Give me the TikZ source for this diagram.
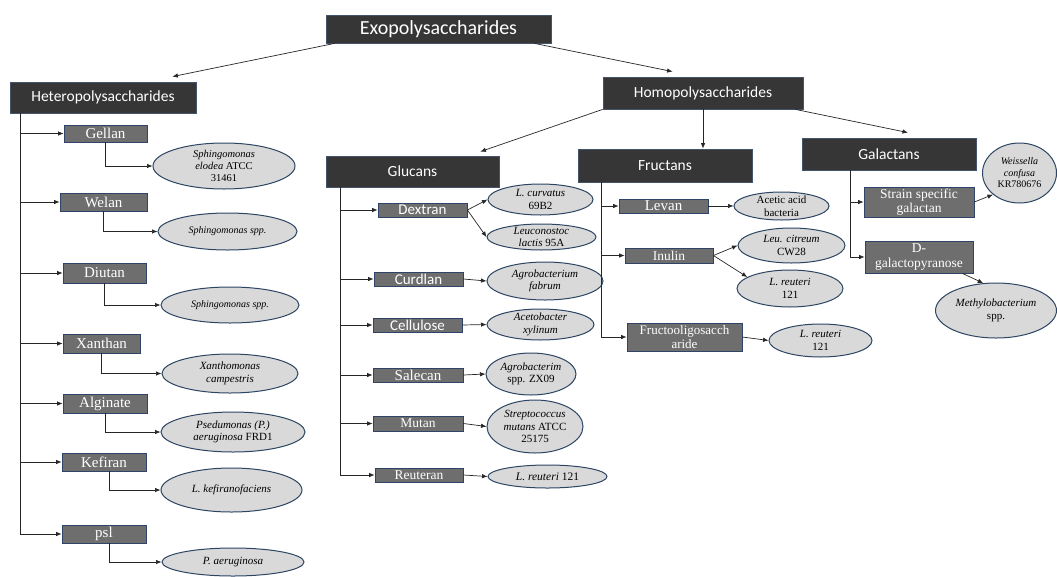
\documentclass[tikz,border=0pt]{standalone}
\usepackage{fontspec}
\setmainfont{Liberation Serif}
\newfontfamily\calibri{Carlito}
\usetikzlibrary{shapes.geometric,shadows,arrows.meta}
\definecolor{headfill}{HTML}{363636}
\definecolor{headline}{HTML}{44546A}
\definecolor{polyfill}{HTML}{6E6E6E}
\definecolor{polyline}{HTML}{2F4468}
\definecolor{srcfill}{HTML}{D9D9D9}
\definecolor{srcline}{HTML}{2C4563}
\tikzset{
  dims/.style 2 args = {minimum width=#1pt, minimum height=#2pt},
  headnode/.style = {shape=rectangle, draw=headline, fill=headfill,
                     line width=0.8pt, inner sep=0pt, text=white,
                     font=\calibri\fontsize{15.5}{17}\selectfont,
                     drop shadow={opacity=0.25, shadow xshift=1pt, shadow yshift=-1pt}},
  polynode/.style = {shape=rectangle, draw=polyline, fill=polyfill,
                     line width=0.8pt, inner sep=0pt, text=white, align=center,
                     font=\fontsize{15}{16}\selectfont,
                     drop shadow={opacity=0.25, shadow xshift=1pt, shadow yshift=-1pt}},
  sansnode/.style = {polynode, font=\calibri\fontsize{15}{16}\selectfont},
  smaller/.style  = {font=\fontsize{13.5}{14.5}\selectfont},
  source/.style   = {shape=ellipse, draw=srcline, fill=srcfill,
                     line width=1pt, inner xsep=0pt, inner ysep=-3pt, align=center,
                     font=\fontsize{11}{12.5}\selectfont},
  link/.style     = {draw=black!85, line width=0.7pt, -{Latex[length=5.5pt,width=4.5pt]}}
}
\begin{document}
\begin{tikzpicture}[x=1pt, y=-1pt]
  \useasboundingbox (0,0) rectangle (1057,576);

  \node [headnode, dims={225}{28}, font=\calibri\fontsize{20}{22}\selectfont] (exo) at (438.5,29) {Exopolysaccharides};
  \node [headnode, dims={186}{31}] (hetero) at (103,97.5) {Heteropolysaccharides};
  \node [headnode, dims={200}{32}] (homo) at (703,93) {Homopolysaccharides};
  \node [headnode, dims={173}{31}] (glucans) at (412.5,171.5) {Glucans};
  \node [headnode, dims={174}{33}] (fructans) at (665,165.5) {Fructans};
  \node [headnode, dims={174}{32}] (galactans) at (889,154) {Galactans};

  \draw [link] ([xshift=9pt]exo.south west) -- ([xshift=-24pt,yshift=5pt]hetero.north east);
  \draw [link] ([xshift=-17pt]exo.south east) -- ([xshift=70pt,yshift=5pt]homo.north west);
  \draw [link] (homo.south west) -- ([xshift=-19pt,yshift=4pt]glucans.north east);
  \draw [link] (homo.south) -- (homo.south |- fructans.north);
  \draw [link] ([xshift=-8pt]homo.south east) -- ([xshift=19pt,yshift=5pt]galactans.north);

  % heteropolysaccharides
  \node [polynode, dims={83}{17}] (gellan) at (105.5,133.5) {Gellan};
  \node [polynode, dims={87}{18}] (welan) at (103.5,202) {Welan};
  \node [polynode, dims={83}{20}] (diutan) at (104.5,273) {Diutan};
  \node [polynode, dims={77}{19}] (xanthan) at (101.5,343.5) {Xanthan};
  \node [polynode, dims={84}{19}] (alginate) at (105,403.5) {Alginate};
  \node [polynode, dims={84}{18}] (kefiran) at (104,462) {Kefiran};
  \node [polynode, dims={84}{18}] (psl) at (104,534) {psl};

  \node [source, dims={142}{46}, font=\fontsize{10.5}{12}\selectfont] (gellansrc) at (224,166) {\textit{Sphingomonas}\\\textit{elodea} ATCC\\31461};
  \node [source, dims={139}{37}, font=\fontsize{10}{12}\selectfont] (welansrc) at (227.5,231.5) {\textit{Sphingomonas spp.}};
  \node [source, dims={138}{36}, font=\fontsize{10}{12}\selectfont] (diutansrc) at (230,305) {\textit{Sphingomonas spp.}};
  \node [source, dims={136}{39}] (xanthansrc) at (230,373.5) {\textit{Xanthomonas}\\\textit{campestris}};
  \node [source, dims={144}{40}] (alginatesrc) at (233,432) {\textit{Psedumonas (P.)}\\\textit{aeruginosa} FRD1};
  \node [source, dims={141}{44}] (kefiransrc) at (231.5,490) {\textit{L. kefiranofaciens}};
  \node [source, dims={142}{28}] (pslsrc) at (233,562) {\textit{P. aeruginosa}};

  \coordinate (ht) at ([xshift=11pt]hetero.south west);
  \draw [link] (ht) |- (gellan.west);
  \draw [link] (ht) |- (welan.west);
  \draw [link] (ht) |- (diutan.west);
  \draw [link] (ht) |- (xanthan.west);
  \draw [link] (ht) |- (alginate.west);
  \draw [link] (ht) |- (kefiran.west);
  \draw [link] (ht) |- (psl.west);
  \draw [link] (gellan.south) |- (gellansrc.west);
  \draw [link] (welan.south) |- (welansrc.west);
  \draw [link] (diutan.south) |- (diutansrc.west);
  \draw [link] (xanthan.south) |- (xanthansrc.west);
  \draw [link] (alginate.south) |- (alginatesrc.west);
  \draw [link] ([xshift=5pt]kefiran.south) |- (kefiransrc.west);
  \draw [link] ([xshift=5pt]psl.south) |- (pslsrc.west);

  % glucans
  \node [sansnode, dims={89}{14}] (dextran) at (422.5,210) {Dextran};
  \node [sansnode, dims={89}{14}] (curdlan) at (418.5,279) {Curdlan};
  \node [sansnode, dims={89}{14}] (cellulose) at (417.5,325) {Cellulose};
  \node [polynode, dims={90}{14}] (salecan) at (418,375) {Salecan};
  \node [polynode, smaller, dims={90}{15}] (mutan) at (418,423.5) {Mutan};
  \node [polynode, smaller, dims={88}{14}] (reuteran) at (419,475) {Reuteran};

  \node [source, dims={105}{31}] (curvatus) at (540.5,199.5) {\textit{L. curvatus}\\69B2};
  \node [source, dims={109}{26}] (leuco) at (541.5,237) {\textit{Leuconostoc}\\\textit{lactis} 95A};
  \node [source, dims={116}{38}] (curdlansrc) at (545,281) {\textit{Agrobacterium}\\\textit{fabrum}};
  \node [source, dims={107}{31}] (cellulosesrc) at (540.5,324.5) {\textit{Acetobacter}\\\textit{xylinum}};
  \node [source, dims={90}{42}] (salecansrc) at (531,374) {\textit{Agrobacterim}\\spp. ZX09};
  \node [source, dims={96}{53}] (mutansrc) at (535,426.5) {\textit{Streptococcus}\\\textit{mutans} ATCC\\25175};
  \node [source, dims={119}{23}, font=\fontsize{11.5}{13}\selectfont] (reuteransrc) at (547.5,476.5) {\textit{L. reuteri} 121};

  \coordinate (gt) at ([xshift=15pt]glucans.south west);
  \draw [link] (gt) |- (dextran.west);
  \draw [link] (gt) |- (curdlan.west);
  \draw [link] (gt) |- (cellulose.west);
  \draw [link] (gt) |- (salecan.west);
  \draw [link] (gt) |- (mutan.west);
  \draw [link] (gt) |- (reuteran.west);
  \draw [link] (dextran.east) -- (curvatus.west);
  \draw [link] (dextran.east) -- (leuco.west);
  \draw [link] (curdlan.east) -- (curdlansrc.west);
  \draw [link] (cellulose.east) -- (cellulosesrc.west);
  \draw [link] (salecan.east) -- (salecansrc.west);
  \draw [link] (mutan.east) -- (mutansrc.west);
  \draw [link] (reuteran.east) -- (reuteransrc.west);

  % fructans
  \node [polynode, dims={89}{14}] (levan) at (663.5,206) {Levan};
  \node [polynode, smaller, dims={88}{15}] (inulin) at (669,255.5) {Inulin};
  \node [polynode, font=\fontsize{13}{14}\selectfont, dims={115}{28}] (fos) at (684.5,337) {Fructooligosacch\\aride};

  \node [source, dims={95}{28}] (levansrc) at (781.5,206) {Acetic acid\\bacteria};
  \node [source, dims={107}{35}] (citreum) at (791.5,245.5) {\textit{Leu. citreum}\\CW28};
  \node [source, dims={106}{37}] (inulinsrc) at (790,288.5) {\textit{L. reuteri}\\121};
  \node [source, dims={103}{33}] (fossrc) at (820.5,340.5) {\textit{L. reuteri}\\121};

  \coordinate (ft) at ([xshift=24pt]fructans.south west);
  \draw [link] (ft) |- (levan.west);
  \draw [link] (ft) |- (inulin.west);
  \draw [link] (ft) |- (fos.west);
  \draw [link] (levan.east) -- (levansrc.west);
  \draw [link] (inulin.east) -- (citreum.west);
  \draw [link] (inulin.east) -- (inulinsrc.165);
  \draw [link] (fos.east) -- (fossrc.west);

  % galactans
  \node [polynode, smaller, dims={110}{30}] (strain) at (919,202) {Strain specific\\galactan};
  \node [polynode, smaller, dims={108}{32}] (dgal) at (919,257) {D-\\galactopyranose};

  \node [source, dims={74}{60}, font=\fontsize{10}{11.5}\selectfont] (weissella) at (1019.5,173) {\textit{Weissella}\\\textit{confusa}\\KR780676};
  \node [source, dims={121}{55}] (methylo) at (996,310.5) {\textit{Methylobacterium}\\spp.};

  \coordinate (gat) at ([xshift=49pt]galactans.south west);
  \draw [link] (gat) |- (strain.west);
  \draw [link] (gat) |- (dgal.west);
  \draw [link] (strain.east) -- (weissella.south west);
  \draw [link] ([xshift=-11pt]dgal.south east) -- (methylo.115);
\end{tikzpicture}
\end{document}
